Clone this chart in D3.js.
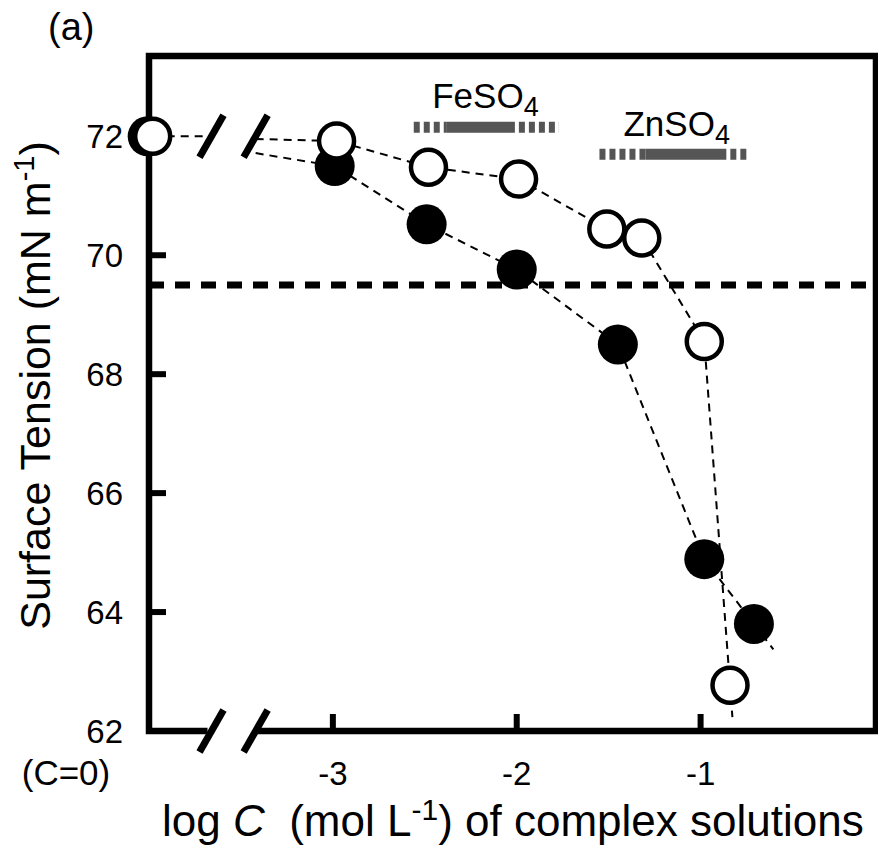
<!DOCTYPE html>
<html>
<head>
<meta charset="utf-8">
<script src="https://cdn.jsdelivr.net/npm/d3@7"></script>
<style>
    body { margin: 0; background: #fff; }
    svg { display: block; font-family: "Liberation Sans", Arial, sans-serif; }
</style>
</head>
<body>
<script>
/* values */
const xTicks = [-3, -2, -1]
const xTickLabels = ["-3", "-2", "-1"]
const yTicks = [62, 64, 66, 68, 70, 72]
const yTickLabels = ["62", "64", "66", "68", "70", "72"]

const zeroLabel = "(C=0)"
const openZero = 72.0
const filledZero = 72.0

const openLogC = [-2.98, -2.48, -1.99, -1.51, -1.32, -0.98, -0.84]
const openTension = [71.92, 71.48, 71.28, 70.44, 70.29, 68.55, 62.77]

const filledLogC = [-2.99, -2.49, -2.0, -1.45, -0.98, -0.71]
const filledTension = [71.5, 70.52, 69.76, 68.5, 64.89, 63.8]

const referenceTension = 69.5

/* salt ranges: dashed start, solid start, solid end, dashed end */
const saltNames = ["FeSO", "ZnSO"]
const saltRanges = [[-2.56, -2.38, -2.01, -1.77], [-1.55, -1.30, -0.86, -0.75]]
const saltBarLevel = [72.15, 71.7]
const saltLabelLevel = [72.47, 72.0]
const saltLabelPos = [-2.17, -1.13]

/* axis layout (in data units) */
const xDomain = [-4.0, -0.046]
const yDomain = [62, 73.35]
const zeroPos = -3.98
const breakPos = [-3.66, -3.42]

const width = 878
const height = 850
const margin = { top: 56, right: 2, bottom: 119, left: 149 }

const svg = d3.select("body").append("svg")
    .attr("width", width)
    .attr("height", height)

const xScale = d3.scaleLinear()
    .domain(xDomain)
    .range([margin.left, width - margin.right])

const yScale = d3.scaleLinear()
    .domain(yDomain)
    .range([height - margin.bottom, margin.top])

const frameWidth = 6.5
const x0 = xScale.range()[0], x1 = xScale.range()[1]
const yBottom = yScale(yDomain[0]), yTop = yScale(yDomain[1])

/* reference dashed line */
svg.append("line")
    .attr("x1", x0).attr("x2", x1)
    .attr("y1", yScale(referenceTension)).attr("y2", yScale(referenceTension))
    .attr("stroke", "#000")
    .attr("stroke-width", 7)
    .attr("stroke-dasharray", "15,11")

/* series lines */
const line = d3.line().x(d => d[0]).y(d => d[1])

function seriesLines(zero, logC, tension) {
    const first = [logC[0], tension[0]]
    const t = (breakPos[1] - zeroPos) / (first[0] - zeroPos)
    const resume = d3.interpolateNumber(zero, first[1])(t)

    const left = [[xScale(zeroPos), yScale(zero)], [xScale(breakPos[0]), yScale(zero)]]
    const right = [[xScale(breakPos[1]), yScale(resume)]]
    logC.forEach((c, i) => right.push([xScale(c), yScale(tension[i])]))

    /* the line runs on a little past the last point */
    const a = right[right.length - 2], b = right[right.length - 1]
    const len = Math.hypot(b[0] - a[0], b[1] - a[1])
    const ext = 32
    right.push([b[0] + (b[0] - a[0]) / len * ext, b[1] + (b[1] - a[1]) / len * ext])
    return [left, right]
}

const openLines = seriesLines(openZero, openLogC, openTension)
const filledLines = seriesLines(filledZero, filledLogC, filledTension)

svg.selectAll("path.series")
    .data([openLines[0], openLines[1], filledLines[1]])
    .enter()
    .append("path")
    .attr("class", "series")
    .attr("d", line)
    .attr("fill", "none")
    .attr("stroke", "#000")
    .attr("stroke-width", 2)
    .attr("stroke-dasharray", "8,6")

/* frame */
const frame = svg.append("g")
    .attr("stroke", "#000")
    .attr("stroke-width", frameWidth)
    .attr("fill", "none")

frame.append("path")
    .attr("d", `M${xScale(breakPos[0]) - 4},${yBottom} L${x0},${yBottom} L${x0},${yTop} L${x1},${yTop} L${x1},${yBottom} L${xScale(breakPos[1]) + 2},${yBottom}`)
    .attr("stroke-linejoin", "miter")

/* ticks pointing inwards */
const tickLen = 17
svg.selectAll("line.ytick")
    .data(yTicks.slice(1))
    .enter()
    .append("line")
    .attr("class", "ytick")
    .attr("x1", x0).attr("x2", x0 + tickLen)
    .attr("y1", d => yScale(d)).attr("y2", d => yScale(d))
    .attr("stroke", "#000")
    .attr("stroke-width", 6)

svg.selectAll("line.xtick")
    .data(xTicks)
    .enter()
    .append("line")
    .attr("class", "xtick")
    .attr("x1", d => xScale(d)).attr("x2", d => xScale(d))
    .attr("y1", yBottom).attr("y2", yBottom - tickLen)
    .attr("stroke", "#000")
    .attr("stroke-width", 6)

/* axis break marks */
const breakLevels = [yBottom, yScale(openZero)]
breakLevels.forEach(level => {
    breakPos.forEach(p => {
        svg.append("line")
            .attr("x1", xScale(p) - 12).attr("y1", level + 21)
            .attr("x2", xScale(p) + 12).attr("y2", level - 21)
            .attr("stroke", "#000")
            .attr("stroke-width", 7)
    })
})

/* tick labels */
svg.selectAll("text.ylabel")
    .data(yTicks)
    .enter()
    .append("text")
    .attr("class", "ylabel")
    .attr("x", x0 - 26)
    .attr("y", d => yScale(d))
    .attr("dy", "0.36em")
    .attr("text-anchor", "end")
    .attr("font-size", 33)
    .text((d, i) => yTickLabels[i])

svg.selectAll("text.xlabel")
    .data(xTicks)
    .enter()
    .append("text")
    .attr("class", "xlabel")
    .attr("x", d => xScale(d))
    .attr("y", yBottom + 54)
    .attr("text-anchor", "middle")
    .attr("font-size", 33)
    .text((d, i) => xTickLabels[i])

svg.append("text")
    .attr("x", 66)
    .attr("y", yBottom + 54)
    .attr("text-anchor", "middle")
    .attr("font-size", 35)
    .text(zeroLabel)

/* salt ranges */
saltRanges.forEach((r, i) => {
    const yb = yScale(saltBarLevel[i])
    const bar = svg.append("g").attr("stroke", "#555").attr("stroke-width", 11)
    bar.append("line")
        .attr("x1", xScale(r[0])).attr("x2", xScale(r[1]))
        .attr("y1", yb).attr("y2", yb)
        .attr("stroke-dasharray", "6,4")
    bar.append("line")
        .attr("x1", xScale(r[1])).attr("x2", xScale(r[2]))
        .attr("y1", yb).attr("y2", yb)
    bar.append("line")
        .attr("x1", xScale(r[2]) + 4).attr("x2", xScale(r[3]))
        .attr("y1", yb).attr("y2", yb)
        .attr("stroke-dasharray", "6,4")

    const label = svg.append("text")
        .attr("x", xScale(saltLabelPos[i]))
        .attr("y", yScale(saltLabelLevel[i]))
        .attr("text-anchor", "middle")
        .attr("font-size", 35)
    label.append("tspan").text(saltNames[i])
    label.append("tspan").attr("font-size", 27).attr("dy", 8).text("4")
})

/* markers */
const filledPoints = [[xScale(zeroPos) - 5, yScale(filledZero)]]
filledLogC.forEach((c, i) => filledPoints.push([xScale(c), yScale(filledTension[i])]))
const openPoints = [[xScale(zeroPos), yScale(openZero)]]
openLogC.forEach((c, i) => openPoints.push([xScale(c), yScale(openTension[i])]))

svg.selectAll("circle.filled")
    .data(filledPoints)
    .enter()
    .append("circle")
    .attr("class", "filled")
    .attr("cx", d => d[0]).attr("cy", d => d[1])
    .attr("r", 20)
    .attr("fill", "#000")

svg.selectAll("circle.open")
    .data(openPoints)
    .enter()
    .append("circle")
    .attr("class", "open")
    .attr("cx", d => d[0]).attr("cy", d => d[1])
    .attr("r", 17.5)
    .attr("fill", "#fff")
    .attr("stroke", "#000")
    .attr("stroke-width", 4.5)

/* titles */
const xTitle = svg.append("text")
    .attr("x", 162)
    .attr("y", 836)
    .attr("font-size", 44)
xTitle.append("tspan").text("log ")
xTitle.append("tspan").attr("font-style", "italic").text("C")
xTitle.append("tspan").text("\u00a0 (mol L")
xTitle.append("tspan").attr("font-size", 30).attr("dy", -16).text("-1")
xTitle.append("tspan").attr("dy", 16).text(") of complex solutions")

const yTitle = svg.append("text")
    .attr("transform", `translate(50, ${(yTop + yBottom) / 2 - 8}) rotate(-90)`)
    .attr("text-anchor", "middle")
    .attr("font-size", 43)
yTitle.append("tspan").text("Surface Tension (mN m")
yTitle.append("tspan").attr("font-size", 29).attr("dy", -16).text("-1")
yTitle.append("tspan").attr("dy", 16).text(")")

svg.append("text")
    .attr("x", 48)
    .attr("y", 40)
    .attr("font-size", 38)
    .text("(a)")
</script>
</body>
</html>
